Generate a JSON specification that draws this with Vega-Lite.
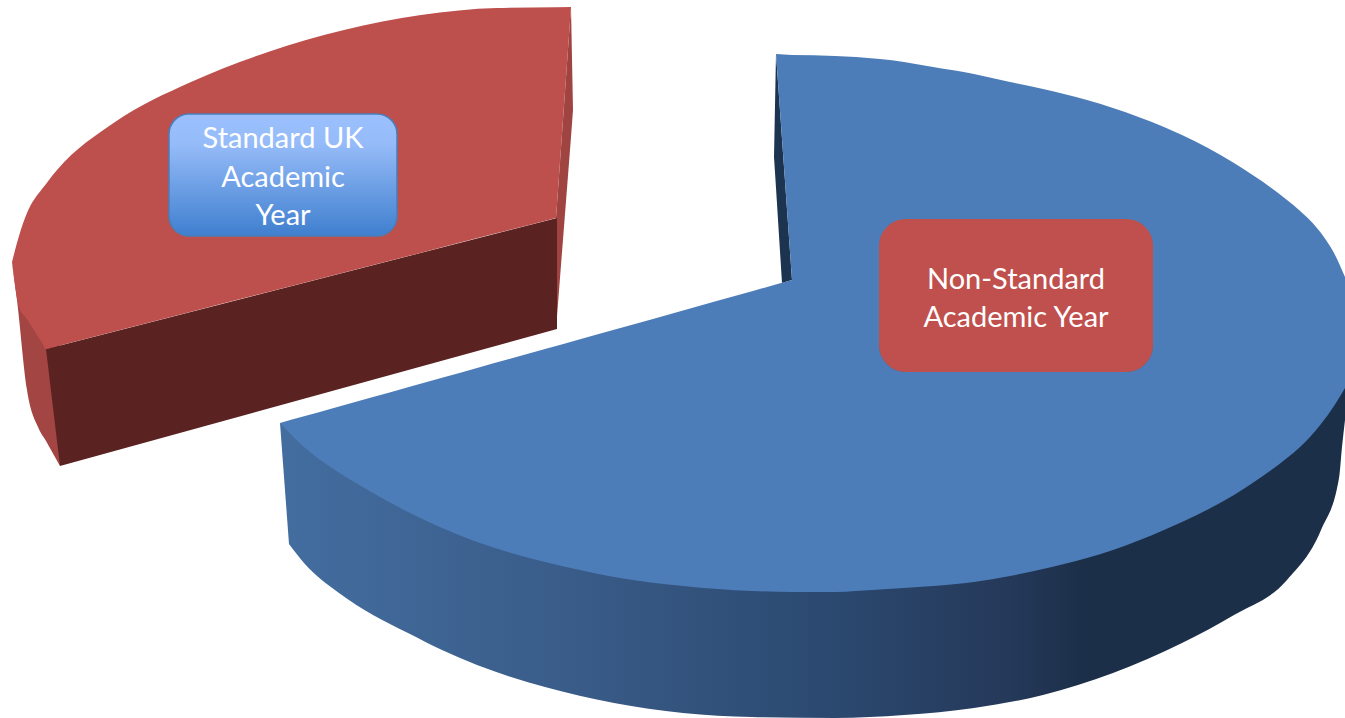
{
"$schema":"https://vega.github.io/schema/vega-lite/v6.json",
"width":1345,"height":718,
"autosize":{"type":"fit","contains":"padding"},
"padding":0,
"background":"white",
"config":{"view":{"stroke":null}},
"datasets":{
"redSide":[{"x":12,"y":262,"y2":262},{"x":17,"y":290,"y2":300},{"x":27,"y":310,"y2":390},{"x":38,"y":330,"y2":427},{"x":46,"y":340,"y2":441},{"x":60,"y":345,"y2":466}],
"redLip":[{"x":556,"y":218,"y2":329},{"x":571,"y":7,"y2":137},{"x":573,"y":110,"y2":110}],
"redFace":[{"x":46,"y":349,"y2":349},{"x":60,"y":345.4,"y2":466},{"x":557,"y":218,"y2":329}],
"redTop":[{"x":12,"y":262,"y2":262},{"x":19,"y":236,"y2":307},{"x":27,"y":213,"y2":319},{"x":42,"y":189,"y2":343},{"x":46,"y":184,"y2":349},{"x":52,"y":176,"y2":347.5},{"x":57,"y":170,"y2":346.2},{"x":115,"y":122,"y2":331.3},{"x":191,"y":82,"y2":311.8},{"x":268,"y":52,"y2":292},{"x":344,"y":30,"y2":272.4},{"x":421,"y":15,"y2":252.7},{"x":497,"y":8,"y2":233.1},{"x":556,"y":7.2,"y2":218}],
"redTopTip":[{"x":556,"y":7.2,"y2":218},{"x":571,"y":7,"y2":7}],
"blueSideEdge":[{"x":280,"y":423,"y2":423},{"x":289,"y":425,"y2":544}],
"blueSide":[{"x":289,"y":425,"y2":544},{"x":304,"y":430,"y2":563},{"x":339,"y":460,"y2":593},{"x":373,"y":480,"y2":615},{"x":408,"y":500,"y2":633},{"x":442,"y":520,"y2":650},{"x":477,"y":535,"y2":665},{"x":511,"y":545,"y2":677},{"x":545,"y":555,"y2":687},{"x":614,"y":570,"y2":703},{"x":683,"y":580,"y2":713},{"x":752,"y":585,"y2":717},{"x":835,"y":585,"y2":718},{"x":904,"y":580,"y2":715},{"x":974,"y":575,"y2":708},{"x":1043,"y":560,"y2":695},{"x":1113,"y":540,"y2":673},{"x":1182,"y":515,"y2":643},{"x":1234,"y":485,"y2":615},{"x":1287,"y":450,"y2":580},{"x":1321,"y":415,"y2":530},{"x":1339,"y":390,"y2":478},{"x":1342,"y":385,"y2":447},{"x":1345,"y":385,"y2":420}],
"blueWall":[{"x":774,"y":157,"y2":157},{"x":776,"y":54,"y2":188},{"x":782,"y":139,"y2":283},{"x":792,"y":280,"y2":280}],
"blueTopLeft":[{"x":280,"y":423,"y2":423},{"x":304,"y":416.3,"y2":447},{"x":332,"y":408.5,"y2":468},{"x":373,"y":397,"y2":493},{"x":408,"y":387.2,"y2":512},{"x":442,"y":377.8,"y2":528},{"x":477,"y":368,"y2":542},{"x":511,"y":358.5,"y2":553},{"x":545,"y":349,"y2":562},{"x":580,"y":339.2,"y2":570},{"x":614,"y":329.7,"y2":577},{"x":683,"y":310.4,"y2":586},{"x":752,"y":291.2,"y2":591},{"x":793,"y":279.7,"y2":592}],
"blueTopWedge":[{"x":776,"y":54,"y2":54},{"x":792,"y":55,"y2":280}],
"blueTopRight":[{"x":792,"y":55,"y2":592},{"x":835,"y":56,"y2":592},{"x":856,"y":57,"y2":591},{"x":904,"y":62,"y2":588},{"x":933,"y":67,"y2":586},{"x":974,"y":74,"y2":582},{"x":1010,"y":82,"y2":576},{"x":1043,"y":89,"y2":569},{"x":1087,"y":100,"y2":558},{"x":1113,"y":108,"y2":550},{"x":1164,"y":127,"y2":530},{"x":1182,"y":135,"y2":522},{"x":1234,"y":163,"y2":495},{"x":1287,"y":200,"y2":458},{"x":1299,"y":210,"y2":448},{"x":1321,"y":233,"y2":424},{"x":1334,"y":253,"y2":406},{"x":1345,"y":277,"y2":388}],
"boxStandard":[{"label":"Standard UK Academic Year","x":169,"x2":397,"y":114,"y2":236}],
"boxNon":[{"label":"Non-Standard Academic Year","x":879,"x2":1153,"y":219,"y2":372}],
"labels":[{"text":"Standard UK","x":283,"y":138.5},{"text":"Academic","x":283,"y":177.5},{"text":"Year","x":283,"y":215.5},{"text":"Non-Standard","x":1016,"y":279.5},{"text":"Academic Year","x":1016,"y":317.5}]
},
"encoding":{
"x":{"field":"x","type":"quantitative","scale":{"domain":[0,1345],"nice":false,"zero":false},"axis":null},
"y":{"field":"y","type":"quantitative","scale":{"domain":[718,0],"nice":false,"zero":false},"axis":null}
},
"layer":[
{"data":{"name":"redSide"},"mark":{"type":"area","orient":"vertical","interpolate":"monotone","fill":"#a34543"},"encoding":{"y2":{"field":"y2"}}},
{"data":{"name":"redLip"},"mark":{"type":"area","orient":"vertical","fill":"#a04442"},"encoding":{"y2":{"field":"y2"}}},
{"data":{"name":"redFace"},"mark":{"type":"area","orient":"vertical","fill":"#5a2322"},"encoding":{"y2":{"field":"y2"}}},
{"data":{"name":"redTop"},"mark":{"type":"area","orient":"vertical","interpolate":"monotone","fill":"#bd4f4c"},"encoding":{"y2":{"field":"y2"}}},
{"data":{"name":"redTopTip"},"mark":{"type":"area","orient":"vertical","fill":"#bd4f4c"},"encoding":{"y2":{"field":"y2"}}},
{"data":{"name":"blueWall"},"mark":{"type":"area","orient":"vertical","fill":"#1c3450"},"encoding":{"y2":{"field":"y2"}}},
{"data":{"name":"blueSideEdge"},"mark":{"type":"area","orient":"vertical","fill":"#436d9f"},"encoding":{"y2":{"field":"y2"}}},
{"data":{"name":"blueSide"},"mark":{"type":"area","orient":"vertical","interpolate":"monotone","fill":{"gradient":"linear","x1":0,"y1":0,"x2":1,"y2":0,"stops":[{"offset":0,"color":"#436d9f"},{"offset":0.25,"color":"#3a5d8a"},{"offset":0.5,"color":"#2c4a71"},{"offset":0.68,"color":"#25395a"},{"offset":0.75,"color":"#1c2f49"},{"offset":1,"color":"#1c2f49"}]}},"encoding":{"y2":{"field":"y2"}}},
{"data":{"name":"blueTopLeft"},"mark":{"type":"area","orient":"vertical","interpolate":"monotone","fill":"#4d7db8"},"encoding":{"y2":{"field":"y2"}}},
{"data":{"name":"blueTopWedge"},"mark":{"type":"area","orient":"vertical","fill":"#4d7db8"},"encoding":{"y2":{"field":"y2"}}},
{"data":{"name":"blueTopRight"},"mark":{"type":"area","orient":"vertical","interpolate":"monotone","fill":"#4d7db8"},"encoding":{"y2":{"field":"y2"}}},
{"data":{"name":"boxStandard"},"mark":{"type":"rect","cornerRadius":20,"fill":"#3a1a1a","opacity":0.3,"yOffset":3},"encoding":{"x2":{"field":"x2"},"y2":{"field":"y2"}}},
{"data":{"name":"boxStandard"},"mark":{"type":"rect","cornerRadius":20,"stroke":"#4a7ebb","strokeWidth":1.5,"fill":{"gradient":"linear","x1":0,"y1":0,"x2":0,"y2":1,"stops":[{"offset":0,"color":"#9cc0ff"},{"offset":0.25,"color":"#95bbf8"},{"offset":1,"color":"#3f7fcf"}]}},"encoding":{"x2":{"field":"x2"},"y2":{"field":"y2"}}},
{"data":{"name":"boxNon"},"mark":{"type":"rect","cornerRadius":27,"fill":"#1a2e4a","opacity":0.3,"yOffset":3},"encoding":{"x2":{"field":"x2"},"y2":{"field":"y2"}}},
{"data":{"name":"boxNon"},"mark":{"type":"rect","cornerRadius":27,"fill":"#c0504d"},"encoding":{"x2":{"field":"x2"},"y2":{"field":"y2"}}},
{"data":{"name":"labels"},"mark":{"type":"text","font":"Lato","fontSize":29,"color":"white","align":"center","baseline":"middle"},"encoding":{"text":{"field":"text"}}}
]
}
